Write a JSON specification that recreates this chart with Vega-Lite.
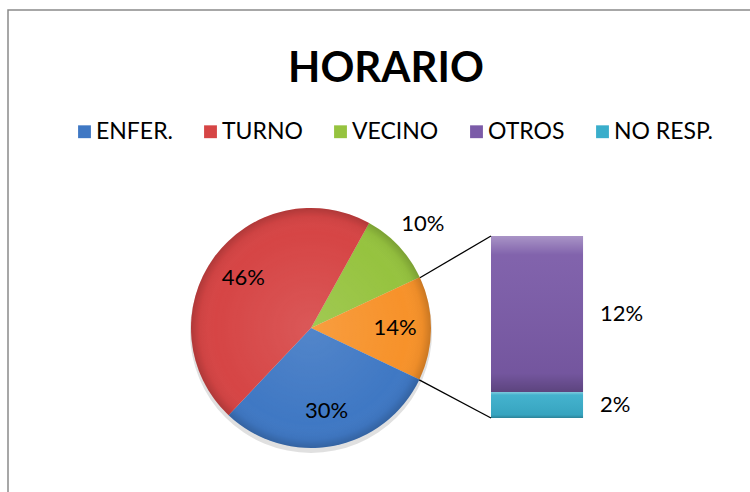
{
  "$schema": "https://vega.github.io/schema/vega-lite/v6.json",
  "width": 750,
  "height": 492,
  "autosize": {"type": "none"},
  "padding": {"left": 8, "top": 10, "right": 0, "bottom": 0},
  "background": "white",
  "config": {
    "view": {"stroke": "#8a8a8a", "strokeWidth": 1.5},
    "font": "Lato",
    "text": {"font": "Lato"}
  },
  "title": {
    "text": "HORARIO",
    "fontSize": 42,
    "font": "Lato",
    "fontWeight": "bold",
    "color": "black",
    "anchor": "middle",
    "dx": 3,
    "offset": -81
  },
  "datasets": {
    "pie": [
      {"cat": "VECINO", "v": 0.10, "k": 1},
      {"cat": "OTROS+NO RESP.", "v": 0.14, "k": 2},
      {"cat": "ENFER.", "v": 0.30, "k": 3},
      {"cat": "TURNO", "v": 0.46, "k": 4}
    ],
    "bar": [
      {"cat": "NO RESP.", "v": 0.02, "k": 1},
      {"cat": "OTROS", "v": 0.12, "k": 2}
    ]
  },
  "layer": [
    {
      "data": {"values": [{}]},
      "mark": {"type": "arc", "radius": 121, "theta": 0, "theta2": 6.2832, "fill": "#000000", "opacity": 0.12},
      "encoding": {
        "x": {"datum": 0, "type": "quantitative", "scale": {"domain": [-2.525, 3.725], "nice": false, "zero": false}, "axis": null},
        "y": {"datum": 0.0662, "type": "quantitative", "scale": {"domain": [-0.064615, 0.313846], "nice": false, "zero": false}, "axis": null}
      }
    },
    {
      "data": {"name": "pie"},
      "mark": {"type": "arc", "radius": 120},
      "encoding": {
        "x": {"datum": 0, "type": "quantitative"},
        "y": {"datum": 0.06923, "type": "quantitative"},
        "theta": {"field": "v", "type": "quantitative", "stack": true, "scale": {"domain": [0, 1], "range": [0.5061, 6.7893]}},
        "order": {"field": "k", "type": "quantitative"},
        "color": {
          "field": "cat",
          "type": "nominal",
          "scale": {
            "domain": ["ENFER.", "TURNO", "VECINO", "OTROS", "NO RESP.", "OTROS+NO RESP."],
            "range": ["#3f78c4", "#d64545", "#96c33f", "#7b5ba8", "#3aaecb", "#f7922a"]
          },
          "legend": {
            "values": ["ENFER.", "TURNO", "VECINO", "OTROS", "NO RESP."],
            "orient": "none",
            "legendX": 65,
            "legendY": 110,
            "direction": "horizontal",
            "title": null,
            "symbolType": "square",
            "symbolSize": 165,
            "symbolStrokeWidth": 0,
            "labelFontSize": 23,
            "labelFont": "Lato",
            "labelColor": "black",
            "labelOffset": 0,
            "columnPadding": 26,
            "labelLimit": 300
          }
        }
      }
    },
    {
      "data": {"values": [{}]},
      "mark": {
        "type": "arc", "radius": 120, "theta": 0, "theta2": 6.2832,
        "fill": {
          "gradient": "radial",
          "x1": 0.5, "y1": 0.5, "r1": 0, "x2": 0.5, "y2": 0.5, "r2": 0.5,
          "stops": [
            {"offset": 0, "color": "rgba(255,255,255,0.10)"},
            {"offset": 0.8, "color": "rgba(255,255,255,0)"},
            {"offset": 0.93, "color": "rgba(0,0,0,0.04)"},
            {"offset": 1, "color": "rgba(0,0,0,0.18)"}
          ]
        }
      },
      "encoding": {
        "x": {"datum": 0, "type": "quantitative"},
        "y": {"datum": 0.06923, "type": "quantitative"}
      }
    },
    {
      "data": {"name": "pie"},
      "mark": {"type": "text", "radius": 84, "fontSize": 22, "font": "Lato", "color": "black"},
      "encoding": {
        "x": {"datum": 0, "type": "quantitative"},
        "y": {"datum": 0.06923, "type": "quantitative"},
        "theta": {"field": "v", "type": "quantitative", "stack": true},
        "order": {"field": "k", "type": "quantitative"},
        "text": {"field": "v", "type": "quantitative", "format": ".0%"},
        "opacity": {"condition": {"test": "datum.cat !== 'VECINO'", "value": 1}, "value": 0}
      }
    },
    {
      "data": {"name": "pie"},
      "mark": {"type": "text", "radius": 153, "fontSize": 22, "font": "Lato", "color": "black"},
      "encoding": {
        "x": {"datum": 0, "type": "quantitative"},
        "y": {"datum": 0.06923, "type": "quantitative"},
        "theta": {"field": "v", "type": "quantitative", "stack": true},
        "order": {"field": "k", "type": "quantitative"},
        "text": {"field": "v", "type": "quantitative", "format": ".0%"},
        "opacity": {"condition": {"test": "datum.cat === 'VECINO'", "value": 1}, "value": 0}
      }
    },
    {
      "data": {"name": "bar"},
      "transform": [
        {"stack": "v", "groupby": [], "sort": [{"field": "k", "order": "ascending"}], "as": ["y0", "y1"]}
      ],
      "mark": {"type": "rect"},
      "encoding": {
        "x": {"datum": 1.5, "type": "quantitative"},
        "x2": {"datum": 2.267},
        "y": {"field": "y0", "type": "quantitative"},
        "y2": {"field": "y1"},
        "color": {"field": "cat", "type": "nominal"}
      }
    },
    {
      "data": {"name": "bar"},
      "transform": [
        {"stack": "v", "groupby": [], "sort": [{"field": "k", "order": "ascending"}], "as": ["y0", "y1"]}
      ],
      "mark": {
        "type": "rect",
        "fill": {
          "gradient": "linear", "x1": 0, "y1": 0, "x2": 0, "y2": 1,
          "stops": [
            {"offset": 0, "color": "rgba(255,255,255,0.35)"},
            {"offset": 0.12, "color": "rgba(255,255,255,0.05)"},
            {"offset": 0.88, "color": "rgba(0,0,0,0.06)"},
            {"offset": 1, "color": "rgba(0,0,0,0.25)"}
          ]
        }
      },
      "encoding": {
        "x": {"datum": 1.5, "type": "quantitative"},
        "x2": {"datum": 2.267},
        "y": {"field": "y0", "type": "quantitative"},
        "y2": {"field": "y1"}
      }
    },
    {
      "data": {"name": "bar"},
      "transform": [
        {"stack": "v", "groupby": [], "sort": [{"field": "k", "order": "ascending"}], "as": ["y0", "y1"]},
        {"calculate": "(datum.y0 + datum.y1) / 2", "as": "ym"}
      ],
      "mark": {"type": "text", "align": "left", "fontSize": 22, "font": "Lato", "color": "black"},
      "encoding": {
        "x": {"datum": 2.408, "type": "quantitative"},
        "y": {"field": "ym", "type": "quantitative"},
        "text": {"field": "v", "type": "quantitative", "format": ".0%"}
      }
    },
    {
      "data": {"values": [{}]},
      "mark": {"type": "rule", "color": "black", "strokeWidth": 1.3},
      "encoding": {
        "x": {"datum": 0.9075, "type": "quantitative"},
        "y": {"datum": 0.1079, "type": "quantitative"},
        "x2": {"datum": 1.5},
        "y2": {"datum": 0.14}
      }
    },
    {
      "data": {"values": [{}]},
      "mark": {"type": "rule", "color": "black", "strokeWidth": 1.3},
      "encoding": {
        "x": {"datum": 0.9017, "type": "quantitative"},
        "y": {"datum": 0.0293, "type": "quantitative"},
        "x2": {"datum": 1.5},
        "y2": {"datum": 0}
      }
    }
  ]
}
